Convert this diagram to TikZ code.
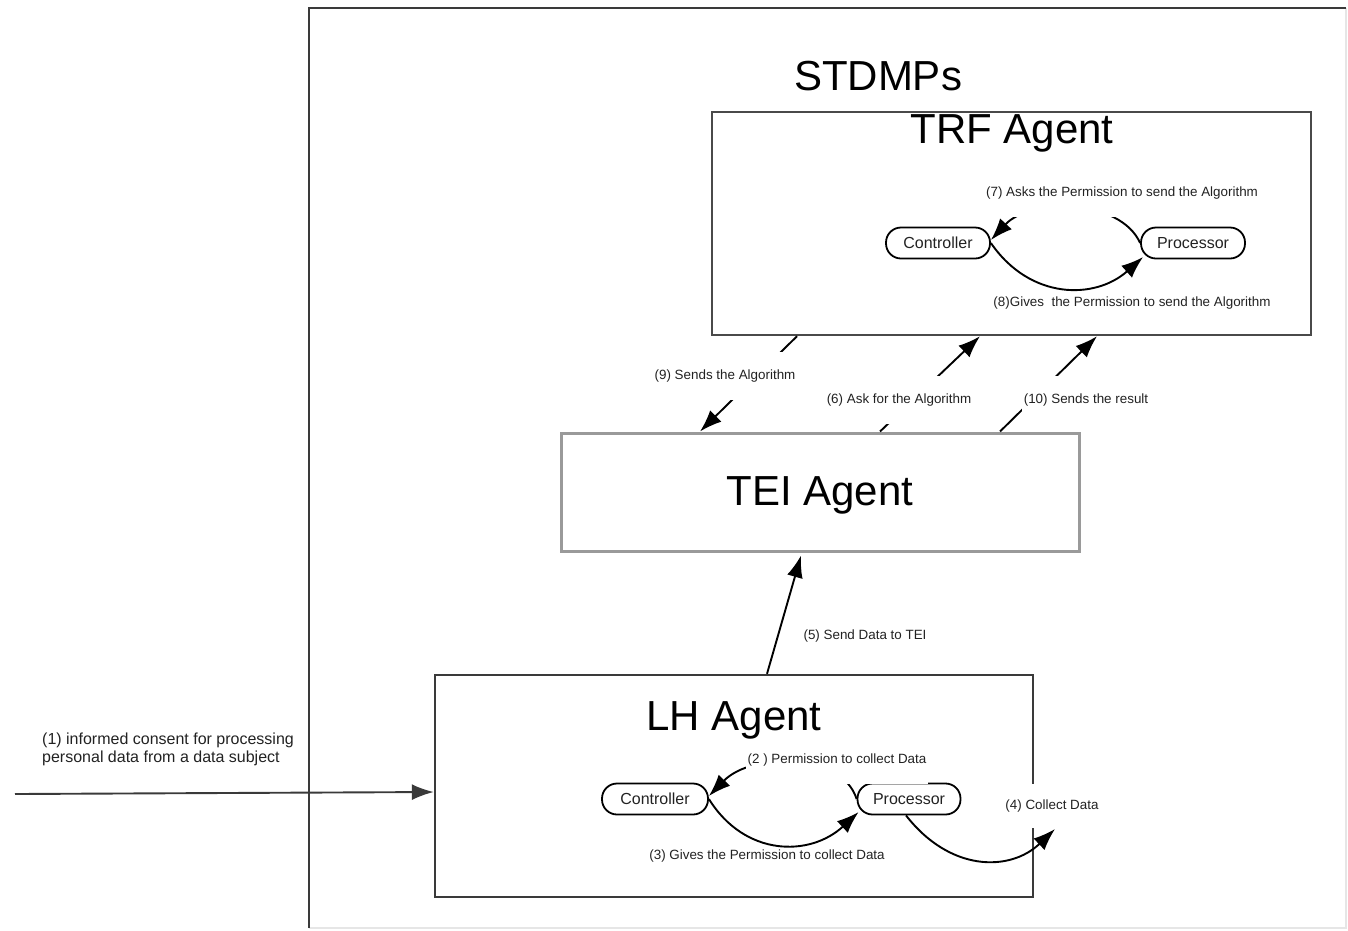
\documentclass[tikz,border=0pt]{standalone}
\usepackage{fontspec}
\setmainfont{Liberation Sans}
\usetikzlibrary{arrows.meta,calc}

\definecolor{framedark}{HTML}{3A3A3A}
\definecolor{framelight}{HTML}{E6E6E6}
\definecolor{boxdark}{HTML}{4A4A4A}
\definecolor{boxlight}{HTML}{9A9A9A}
\definecolor{inkgray}{HTML}{222222}

\tikzset{
  agentbox/.style={draw=boxdark, line width=2.4pt, minimum width=#1, inner sep=0pt},
  title/.style={font=\fontsize{42}{48}\selectfont, text=black, inner sep=0pt, anchor=base},
  role/.style={draw=black, line width=1.8pt, rounded corners=15pt, minimum width=104pt,
               minimum height=31pt, font=\fontsize{16}{18}\selectfont, text=inkgray, inner sep=0pt},
  msg/.style={font=\fontsize{13.4}{15}\selectfont, text=inkgray, inner sep=2pt},
  gapmsg/.style={msg, fill=white, inner ysep=18pt},
  flow/.style={line width=1.9pt, draw=black, -{Latex[length=22pt,width=16pt]}},
}

\begin{document}
\begin{tikzpicture}[x=1pt, y=-1pt]
  \useasboundingbox (0,0) rectangle (1348,930);

  % system frame
  \node[minimum width=1037pt, minimum height=920pt, inner sep=0pt] (sys) at (827.5,468) {};
  \draw[framelight, line width=1.5pt] (sys.north east) -- (sys.south east) -- (sys.south west);
  \draw[framedark, line width=2.6pt] (sys.south west) -- (sys.north west) -- (sys.north east);
  \node[title] (systitle) at (878,90) {STDMPs};

  % agents
  \node[agentbox=599pt, minimum height=223pt] (trf) at (1011.5,223.5) {};
  \node[agentbox=518pt, minimum height=118pt, draw=boxlight, line width=3pt] (tei) at (820,492) {};
  \node[agentbox=598pt, minimum height=222pt, draw=framedark] (lh) at (734,786) {};

  \node[title] (trftitle) at (1012,143) {TRF Agent};
  \node[title] (teititle) at (820,505) {TEI Agent};

  % roles inside TRF
  \node[role] (trfc) at (938,243) {Controller};
  \node[role] (trfp) at (1193,243) {Processor};
  % roles inside LH
  \node[role, minimum width=106pt] (lhc) at (655,799) {Controller};
  \node[role, minimum width=103pt] (lhp) at (909,799) {Processor};

  % TRF exchanges
  \draw[flow] (trfp.west) .. controls (1120,198) and (1030,198) .. ([yshift=3pt]trfc.east);
  \draw[flow] (trfc.east) .. controls (1030,300) and (1095,300) .. ([xshift=3pt,yshift=-14pt]trfp.west);
  \node[gapmsg] (m7) at (1122,193) {(7) Asks the Permission to send the Algorithm};
  \node[msg] (m8) at (1132,303) {(8)Gives \ the Permission to send the Algorithm};

  % between TEI and TRF
  \draw[flow] ([xshift=-214.5pt]trf.south) -- ([xshift=-120pt]tei.north);
  \draw[flow] ([xshift=60pt]tei.north) -- ([xshift=-31.5pt]trf.south);
  \draw[flow] ([xshift=180pt]tei.north) -- ([xshift=85.5pt]trf.south);
  \node[gapmsg] (m9)  at (725,376)  {(9) Sends the Algorithm};
  \node[gapmsg] (m6)  at (899,400)  {(6) Ask for the Algorithm};
  \node[gapmsg] (m10) at (1086,400) {(10) Sends the result};

  % LH to TEI
  \draw[flow] ([xshift=33pt]lh.north) -- ([xshift=-19pt,yshift=-3pt]tei.south);
  \node[msg] (m5) at (865,636) {(5) Send Data to TEI};

  % LH exchanges
  \draw[flow] (lhp.west) .. controls (842,752) and (752,752) .. ([yshift=3pt]lhc.east);
  \draw[flow] (lhc.east) .. controls (745,857) and (810,857) .. ([xshift=2pt,yshift=-13pt]lhp.west);
  \node[gapmsg] (m2) at (837,760) {(2 ) Permission to collect Data};
  \node[msg] (m3) at (767,856) {(3) Gives the Permission to collect Data};
  \node[title] (lhtitle) at (734,730) {LH Agent};

  % collection by the processor
  \node[gapmsg, inner ysep=16pt] (m4) at (1052,806) {(4) Collect Data};
  \coordinate (collect) at (1055,829);
  \draw[flow] ([xshift=-3pt]lhp.south) .. controls (950,872) and (1010,872) .. (collect);

  % consent from the data subject
  \coordinate (subject) at (15,794);
  \draw[flow, draw=framedark] (subject) -- (lh.west |- 0,792);
  \node[msg, font=\fontsize{16}{18}\selectfont, align=left, anchor=north west, inner sep=0pt]
    (m1) at (42,733) {(1) informed consent for processing\\personal data from a data subject};
\end{tikzpicture}
\end{document}
